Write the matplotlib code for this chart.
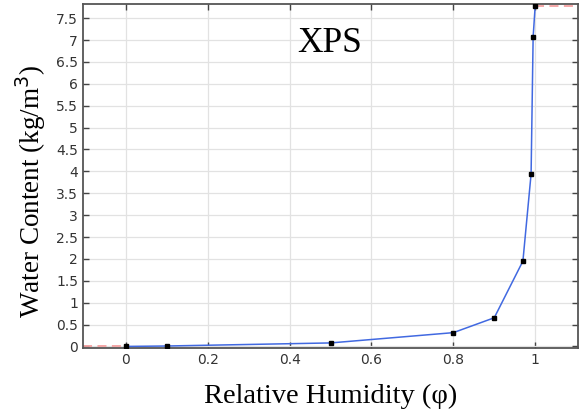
import numpy as np
import matplotlib.pyplot as plt

# данные сорбционной кривой XPS
rh = [0.0, 0.1, 0.5, 0.8, 0.9, 0.97, 0.99, 0.995, 1.0]
water = [0.0, 0.01, 0.08, 0.315, 0.655, 1.95, 3.94, 7.07, 7.78]

xticks = [0, 0.2, 0.4, 0.6, 0.8, 1]
yticks = np.arange(0, 8, 0.5)
xlim = (-0.105, 1.105)
ylim = (-0.04, 7.82)

fig = plt.figure(figsize=(5.84, 4.15), dpi=100)
ax = fig.add_axes([0.142, 0.161, 0.848, 0.829])

# экстраполяция за пределами данных
ax.plot([xlim[0], rh[0]], [water[0], water[0]], color='#f4a0a0', ls=(0, (5, 3)), lw=1.3, zorder=2)
ax.plot([rh[-1], xlim[1]], [water[-1], water[-1]], color='#f4a0a0', ls=(0, (5, 3)), lw=1.3, zorder=2)

ax.plot(rh, water, color='#4169e1', lw=1.1, zorder=3)
ax.plot(rh, water, ls='none', marker='s', ms=2.8, color='black', zorder=4)

ax.set_xlim(*xlim)
ax.set_ylim(*ylim)
ax.set_xticks(xticks)
ax.set_xticklabels(['0', '0.2', '0.4', '0.6', '0.8', '1'])
ax.set_yticks(yticks)
ax.set_yticklabels([f'{v:g}' for v in yticks])
ax.grid(True, color='#e2e2e2', lw=0.9)
ax.set_axisbelow(True)
ax.tick_params(direction='in', top=True, right=True, length=4, width=1,
               color='#444444', labelcolor='#333333', labelsize=10)
for s in ax.spines.values():
    s.set_color('#555555')
    s.set_linewidth(1.3)

ax.set_xlabel('Relative Humidity (φ)', family='Liberation Serif', fontsize=20.5, labelpad=12)
ax.set_ylabel('Water Content (kg/m$^3$)', family='Liberation Serif', fontsize=19.5)
ax.yaxis.set_label_coords(-0.07, 0.455)
ax.text(0.432, 0.86, 'XPS', transform=ax.transAxes, family='Liberation Serif', fontsize=25.5)

plt.savefig('out.png', dpi=100)
